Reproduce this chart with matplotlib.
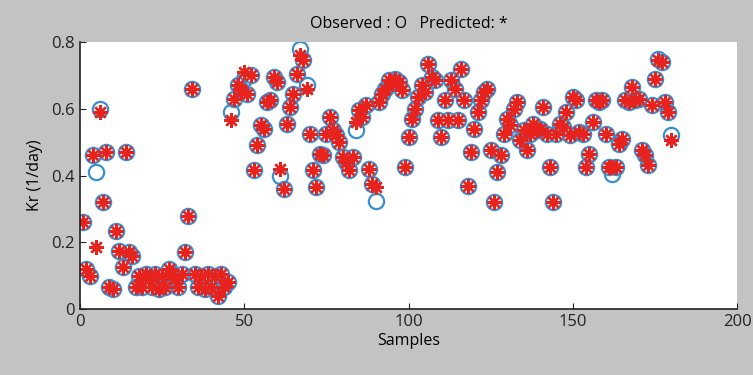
import numpy as np
import matplotlib.pyplot as plt

# Kr values (samples 1..180)
observed = [
    0.26, 0.12, 0.10, 0.46, 0.41, 0.60, 0.32, 0.47, 0.065, 0.06,
    0.235, 0.175, 0.125, 0.47, 0.17, 0.16, 0.065, 0.10, 0.065, 0.105,
    0.09, 0.065, 0.105, 0.06, 0.10, 0.065, 0.12, 0.105, 0.09, 0.065,
    0.105, 0.17, 0.28, 0.66, 0.105, 0.065, 0.10, 0.06, 0.105, 0.065,
    0.10, 0.04, 0.105, 0.065, 0.08, 0.59, 0.63, 0.67, 0.655, 0.69,
    0.645, 0.70, 0.415, 0.49, 0.55, 0.54, 0.62, 0.625, 0.695, 0.68,
    0.40, 0.36, 0.555, 0.605, 0.645, 0.705, 0.78, 0.745, 0.67, 0.525,
    0.415, 0.365, 0.465, 0.46, 0.525, 0.575, 0.535, 0.52, 0.50, 0.455,
    0.44, 0.415, 0.455, 0.535, 0.595, 0.575, 0.61, 0.42, 0.375, 0.325,
    0.62, 0.645, 0.66, 0.685, 0.675, 0.69, 0.68, 0.655, 0.425, 0.515,
    0.57, 0.60, 0.635, 0.67, 0.65, 0.735, 0.695, 0.685, 0.565, 0.515,
    0.625, 0.565, 0.685, 0.66, 0.565, 0.72, 0.625, 0.37, 0.47, 0.54,
    0.59, 0.625, 0.65, 0.66, 0.475, 0.32, 0.41, 0.46, 0.525, 0.57,
    0.55, 0.60, 0.62, 0.505, 0.535, 0.475, 0.525, 0.555, 0.535, 0.54,
    0.605, 0.525, 0.425, 0.32, 0.525, 0.555, 0.545, 0.59, 0.52, 0.635,
    0.625, 0.53, 0.525, 0.425, 0.465, 0.56, 0.625, 0.62, 0.625, 0.525,
    0.425, 0.405, 0.425, 0.495, 0.51, 0.625, 0.62, 0.665, 0.625, 0.63,
    0.475, 0.46, 0.43, 0.61, 0.69, 0.75, 0.74, 0.62, 0.59, 0.52,
]

predicted = [
    0.26, 0.12, 0.10, 0.46, 0.185, 0.59, 0.32, 0.47, 0.065, 0.06,
    0.235, 0.175, 0.125, 0.47, 0.17, 0.16, 0.065, 0.10, 0.065, 0.105,
    0.09, 0.065, 0.105, 0.06, 0.10, 0.065, 0.12, 0.105, 0.09, 0.065,
    0.105, 0.17, 0.28, 0.66, 0.105, 0.065, 0.10, 0.06, 0.105, 0.065,
    0.10, 0.04, 0.105, 0.065, 0.08, 0.565, 0.63, 0.67, 0.655, 0.71,
    0.645, 0.70, 0.415, 0.49, 0.55, 0.54, 0.62, 0.625, 0.695, 0.68,
    0.42, 0.36, 0.555, 0.605, 0.645, 0.705, 0.76, 0.745, 0.66, 0.525,
    0.415, 0.365, 0.465, 0.46, 0.525, 0.575, 0.535, 0.52, 0.50, 0.455,
    0.44, 0.415, 0.455, 0.56, 0.595, 0.575, 0.61, 0.42, 0.375, 0.365,
    0.62, 0.645, 0.66, 0.685, 0.675, 0.69, 0.68, 0.655, 0.425, 0.515,
    0.57, 0.60, 0.635, 0.67, 0.65, 0.735, 0.695, 0.685, 0.565, 0.515,
    0.625, 0.565, 0.685, 0.66, 0.565, 0.72, 0.625, 0.37, 0.47, 0.54,
    0.59, 0.625, 0.65, 0.66, 0.475, 0.32, 0.41, 0.46, 0.525, 0.57,
    0.55, 0.60, 0.62, 0.505, 0.535, 0.475, 0.525, 0.555, 0.535, 0.54,
    0.605, 0.525, 0.425, 0.32, 0.525, 0.555, 0.545, 0.59, 0.52, 0.635,
    0.625, 0.53, 0.525, 0.425, 0.465, 0.56, 0.625, 0.62, 0.625, 0.525,
    0.425, 0.425, 0.425, 0.495, 0.51, 0.625, 0.62, 0.665, 0.625, 0.63,
    0.475, 0.46, 0.43, 0.61, 0.69, 0.745, 0.74, 0.62, 0.59, 0.505,
]

samples = np.arange(1, len(observed) + 1)

plt.rcParams['font.family'] = ['Open Sans', 'DejaVu Sans']

fig = plt.figure(figsize=(7.53, 3.75), dpi=100, facecolor='#c3c3c3')
ax = fig.add_axes([0.106, 0.176, 0.873, 0.712])

# observed as open circles, predicted as red asterisks on top
ax.plot(samples, observed, 'o', mfc='none', mec='#3a8fd0', mew=1.6, ms=11)
ax.plot(samples, predicted, marker=(8, 2, 0), ls='none', color='#e8221c',
        mew=1.7, ms=10.5)

ax.set_xlim(0, 200)
ax.set_ylim(0, 0.8)
ax.set_xticks([0, 50, 100, 150, 200])
ax.set_yticks([0, 0.2, 0.4, 0.6, 0.8])
ax.set_yticklabels(['0', '0.2', '0.4', '0.6', '0.8'])
ax.tick_params(direction='in', labelsize=12, length=4, colors='#222222')
for side in ['top', 'right']:
    ax.spines[side].set_visible(False)
for side in ['left', 'bottom']:
    ax.spines[side].set_color('#222222')
    ax.spines[side].set_linewidth(1.2)

ax.set_xlabel('Samples', fontsize=11.5, labelpad=2)
ax.set_ylabel('Kr (1/day)', fontsize=11.5, labelpad=6)
ax.set_title('Observed : O   Predicted: *', fontsize=11.5, pad=10)

fig.savefig('out.png', dpi=100, facecolor=fig.get_facecolor())
